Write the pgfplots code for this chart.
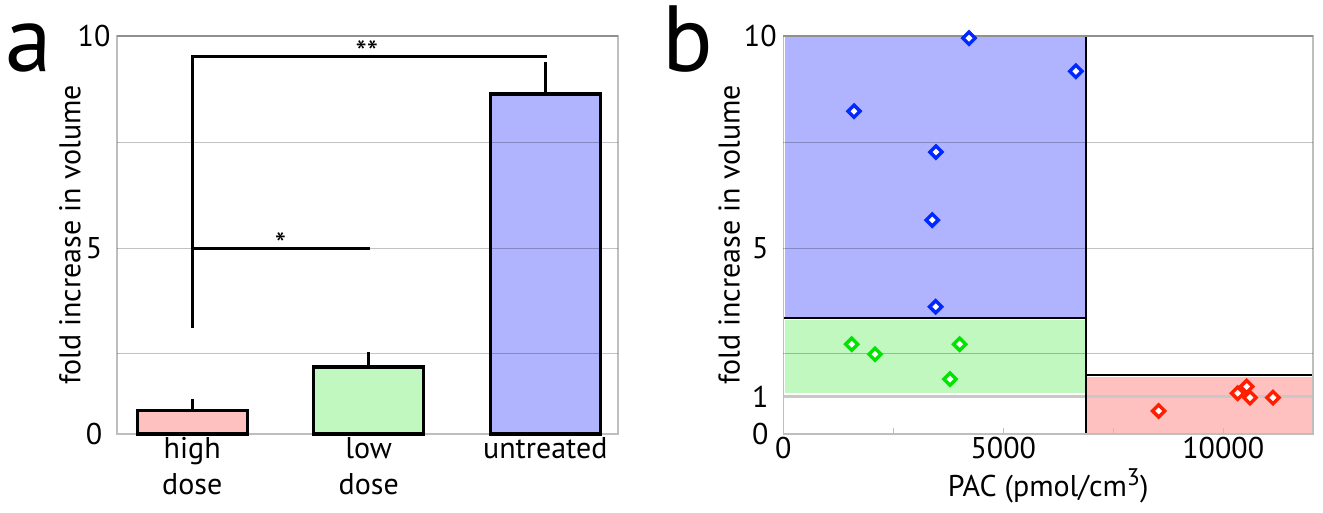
\documentclass[border=0pt]{standalone}
\usepackage{pgfplots}
\pgfplotsset{compat=1.18}
\usepackage{fontspec}
\setmainfont{PT Sans}
\definecolor{pinkbar}{RGB}{255,192,192}
\definecolor{greenbar}{RGB}{192,248,192}
\definecolor{bluebar}{RGB}{176,180,255}
\definecolor{mblue}{RGB}{0,40,255}
\definecolor{mgreen}{RGB}{0,228,0}
\definecolor{mred}{RGB}{255,30,0}
\definecolor{axgray}{RGB}{190,190,190}
\definecolor{refline}{RGB}{200,200,200}
\pgfplotsset{
  fold/.style={
    y coord trafo/.code={\pgfmathparse{0.932*min((##1),5)+1.068*max((##1)-5,0)}},
    y coord inv trafo/.code={\pgfmathparse{min((##1),4.66)/0.932+max((##1)-4.66,0)/1.068}},
  },
  panel/.style={
    scale only axis, anchor=south west, height=398pt, ymin=0, ymax=10,
    fold, clip=false,
    axis line style={draw=axgray, line width=1.2pt},
    tick label style={font=\fontsize{30}{36}\selectfont},
    label style={font=\fontsize{30}{36}\selectfont},
    /pgf/number format/assume math mode=true,
    yticklabel style={anchor=center, xshift=-23pt},
    y tick style={draw=none},
    ymajorgrids=false,
    extra y tick labels={},
    extra y tick style={ymajorgrids=true, major grid style={black, opacity=0.24, line width=1.2pt}, y tick style={draw=none}},
    ylabel={fold increase in volume},
  },
  gridseg/.style={black, opacity=0.24, line width=1.2pt, forget plot},
  mk/.style={only marks, mark=square*, mark size=4.3pt,
    mark options={rotate=45, fill=white, draw=#1, line width=3.4pt}},
}
\begin{document}
\begin{tikzpicture}
\path[use as bounding box] (0,0) rectangle (1323pt,513pt);
\node[anchor=base west, inner sep=0pt, font=\fontsize{94}{94}\selectfont] at (5pt,441pt) {a};
\node[anchor=base west, inner sep=0pt, font=\fontsize{94}{94}\selectfont] at (662pt,441pt) {b};

% ---------------- panel a ----------------
\begin{axis}[panel,
  at={(117pt,79pt)}, width=501pt,
  xmin=-0.426, xmax=2.412,
  xtick={0,1,2}, xticklabels={{high\\dose},{low\\dose},{untreated}},
  xticklabel style={align=center},
  x tick style={draw=none},
  ytick={0,5,10}, yticklabels={0,5,10},
  extra y ticks={2.16,5,7.5,10},
  every axis y label/.style={at={(axis description cs:-0.094,0.5)}, rotate=90, anchor=center, font=\fontsize{30}{36}\selectfont},
]
\addplot[ybar, bar width=110pt, bar shift=0pt, fill=pinkbar, draw=black, line width=3.4pt] coordinates {(0,0.64)};
\addplot[ybar, bar width=110pt, bar shift=0pt, fill=greenbar, draw=black, line width=3.4pt] coordinates {(1,1.81)};
\addplot[ybar, bar width=110pt, bar shift=0pt, fill=bluebar, draw=black, line width=3.4pt] coordinates {(2,8.64)};
% grid lines showing through the untreated bar
\addplot[gridseg] coordinates {(1.697,2.16) (2.303,2.16)};
\addplot[gridseg] coordinates {(1.697,5) (2.303,5)};
\addplot[gridseg] coordinates {(1.697,7.5) (2.303,7.5)};
% error bars (upper)
\addplot[black, line width=3pt] coordinates {(0,0.64) (0,0.95)};
\addplot[black, line width=3pt] coordinates {(1,1.81) (1,2.22)};
\addplot[black, line width=3pt] coordinates {(2,8.64) (2,9.38)};
% significance brackets
\addplot[black, line width=3pt, line join=miter] coordinates {(0,2.86) (0,9.52) (2.01,9.52)};
\addplot[black, line width=3pt] coordinates {(0,5) (1.007,5)};
\node[anchor=base, inner sep=0pt, yshift=-7pt, font=\fontsize{32}{32}\selectfont] at (axis cs:0.99,9.52) {**};
\node[anchor=base, inner sep=0pt, yshift=-7pt, font=\fontsize{32}{32}\selectfont] at (axis cs:0.5,5) {*};
\end{axis}

% ---------------- panel b ----------------
\begin{axis}[panel, axis on top,
  at={(783.3pt,79pt)}, width=529.7pt,
  xmin=0, xmax=12040,
  xtick={0,5000,10000}, xticklabels={0,5000,10000},
  minor xtick={2500,7500},
  scaled x ticks=false,
  xtick pos=bottom, tick align=inside,
  major tick length=6pt, minor tick length=6pt,
  x tick style={draw=axgray, line width=1.2pt},
  ytick={0,1,5,10}, yticklabels={0,1,5,10},
  extra y ticks={2.16,5,7.5,10},
  every axis y label/.style={at={(axis description cs:-0.102,0.5)}, rotate=90, anchor=center, font=\fontsize{30}{36}\selectfont},
  xlabel={PAC (pmol/cm\raisebox{0.38em}{\fontsize{24}{24}\selectfont 3})},
  xlabel style={at={(axis description cs:0.5,0)}, anchor=base, yshift=-63pt},
]
% group regions
\addplot[fill=bluebar, draw=none] coordinates {(40,3.16) (6860,3.16) (6860,9.97) (40,9.97)} -- cycle;
\addplot[fill=greenbar, draw=none] coordinates {(40,1.10) (6860,1.10) (6860,3.06) (40,3.06)} -- cycle;
\addplot[fill=pinkbar, draw=none] coordinates {(6905,0) (12010,0) (12010,1.55) (6905,1.55)} -- cycle;
\addplot[refline, line width=3pt] coordinates {(0,1) (12040,1)};
\addplot[black, line width=1.8pt] coordinates {(0,3.13) (6880,3.13)};
\addplot[black, line width=1.8pt] coordinates {(6880,0) (6880,10)};
\addplot[black, line width=1.8pt] coordinates {(6880,1.59) (12040,1.59)};
% untreated
\addplot[mk=mblue] coordinates {
 (4220,9.95) (6650,9.17) (1607,8.23) (3470,7.27) (3386,5.67) (3464,3.43)};
% low dose
\addplot[mk=mgreen] coordinates {
 (1555,2.42) (2084,2.15) (4009,2.42) (3789,1.48)};
% high dose
\addplot[mk=mred] coordinates {
 (8532,0.62) (10327,1.10) (10532,1.28) (10607,0.98) (11130,0.98)};
\end{axis}
\end{tikzpicture}
\end{document}
